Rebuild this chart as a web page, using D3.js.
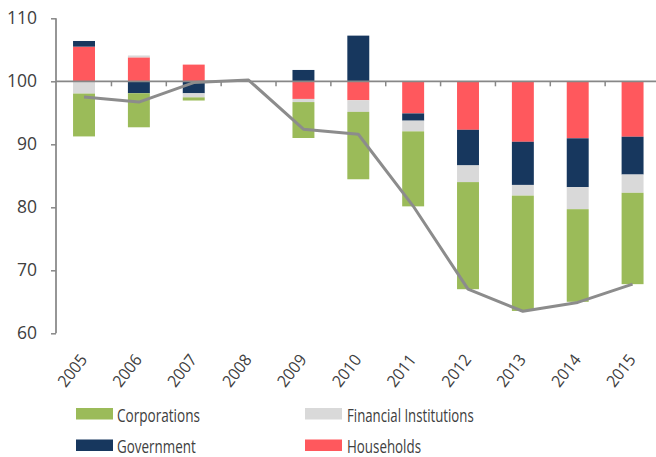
<!DOCTYPE html>
<html><head><meta charset="utf-8">
<script src="https://cdn.jsdelivr.net/npm/d3@7"></script>
<style>
html,body{margin:0;padding:0;background:#fff;}
svg{display:block;}
text{font-family:"Open Sans","Noto Sans",sans-serif;fill:#404040;}
</style></head>
<body>
<svg id="chart" width="656" height="457"></svg>
<script>
const years = ["2005","2006","2007","2008","2009","2010","2011","2012","2013","2014","2015"];
const corporations = [-6.8, -5.4, -0.5, 0, -5.7, -10.7, -11.9, -17.0, -18.3, -14.7, -14.5];
const financialInstitutions = [-1.95, 0.3, -0.65, 0, -0.5, -1.85, -1.7, -2.65, -1.7, -3.5, -2.9];
const government = [0.9, -1.9, -1.9, 0, 1.8, 7.25, -1.15, -5.65, -6.85, -7.75, -6.0];
const households = [5.5, 3.8, 2.65, 0, -2.8, -3.0, -5.1, -7.7, -9.6, -9.05, -8.8];
const total = [97.5, 96.7, 99.8, 100.2, 92.4, 91.6, 80.2, 67.0, 63.5, 64.9, 67.8];
const yTicks = [60, 70, 80, 90, 100, 110];
const baseline = 100;

const seriesNames = ["Corporations","Financial Institutions","Government","Households"];
const colors = {"Corporations":"#9bbb59","Financial Institutions":"#d9d9d9","Government":"#17375e","Households":"#ff585d"};
// stacking order (closest to baseline first)
const stackKeys = ["Households","Government","Financial Institutions","Corporations"];

const rows = years.map((y,i)=>({year:y,
  "Corporations":corporations[i],
  "Financial Institutions":financialInstitutions[i],
  "Government":government[i],
  "Households":households[i]}));

const svg = d3.select("#chart");
const x = d3.scaleBand().domain(years).range([56.6, 660]).paddingInner(0.6).paddingOuter(0.3);
const y = d3.scaleLinear().domain([60,110]).range([333.3, 18.3]);

const stack = d3.stack().keys(stackKeys).offset(d3.stackOffsetDiverging);
const stacked = stack(rows);

svg.append("g").selectAll("g").data(stacked).join("g")
  .attr("fill", s=>colors[s.key])
  .selectAll("rect").data(s=>s).join("rect")
  .attr("x", d=>x(d.data.year))
  .attr("width", x.bandwidth())
  .attr("y", d=>y(baseline + Math.max(d[0],d[1])))
  .attr("height", d=>Math.abs(y(baseline+d[0]) - y(baseline+d[1])));

// baseline axis at 100 with category ticks
const step = x.step();
const x0 = x.range()[0];
const axisColor = "#878787";
svg.append("line").attr("x1",56).attr("x2",656).attr("y1",y(baseline)).attr("y2",y(baseline))
  .attr("stroke",axisColor).attr("stroke-width",1.75);
svg.append("g").selectAll("line").data(d3.range(1, years.length)).join("line")
  .attr("x1",i=>x0+i*step).attr("x2",i=>x0+i*step)
  .attr("y1",y(baseline)).attr("y2",y(baseline)+5)
  .attr("stroke",axisColor).attr("stroke-width",1.5);

// y axis
const yAxis = d3.axisLeft(y).tickValues(yTicks).tickSize(5).tickPadding(14).tickFormat(d3.format("d"));
const gy = svg.append("g").attr("transform","translate(56,0)").call(yAxis);
gy.select(".domain").attr("stroke",axisColor).attr("stroke-width",1.75).attr("d",`M0,${y(110)}V${y(60)}`);
gy.selectAll(".tick line").attr("stroke",axisColor).attr("stroke-width",1.5);
gy.selectAll(".tick text").attr("font-size",17.5).attr("fill","#404040").attr("font-family","'Open Sans','Noto Sans',sans-serif");

// total line
const line = d3.line().x((d,i)=>x(years[i])+x.bandwidth()/2).y(d=>y(d));
svg.append("path").datum(total).attr("d",line).attr("fill","none")
  .attr("stroke","#8c8c8c").attr("stroke-width",3).attr("stroke-linejoin","round");

// x labels
svg.append("g").selectAll("text").data(years).join("text")
  .attr("transform",d=>`translate(${x(d)+x.bandwidth()/2+4},${360}) rotate(-52)`)
  .attr("text-anchor","end").attr("font-size",16.5)
  .attr("textLength",36).attr("lengthAdjust","spacingAndGlyphs").text(d=>d);

// legend
const legend = [
  {name:"Corporations", sx:76, sy:408, tx:117, ty:421.5, w:83},
  {name:"Financial Institutions", sx:305, sy:408, tx:347, ty:421.5, w:126.7},
  {name:"Government", sx:76, sy:439.5, tx:117, ty:453, w:78.7},
  {name:"Households", sx:305, sy:439.5, tx:347, ty:453, w:74}
];
const lg = svg.append("g");
lg.selectAll("rect").data(legend).join("rect")
  .attr("x",d=>d.sx).attr("y",d=>d.sy).attr("width",37).attr("height",11.5)
  .attr("fill",d=>colors[d.name]);
lg.selectAll("text").data(legend).join("text")
  .attr("x",d=>d.tx).attr("y",d=>d.ty).attr("font-size",18)
  .attr("textLength",d=>d.w).attr("lengthAdjust","spacingAndGlyphs")
  .text(d=>d.name);
</script>
</body></html>
